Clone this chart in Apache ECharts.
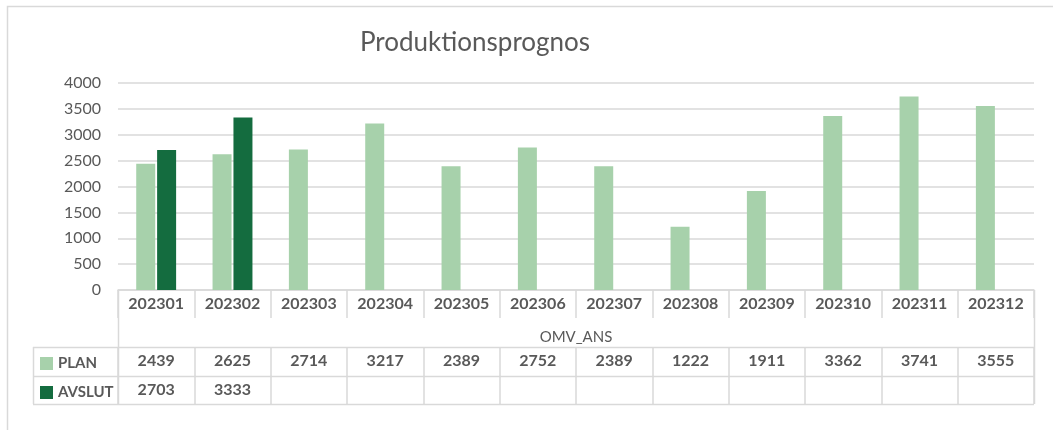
<!DOCTYPE html>
<html>
<head>
<meta charset="utf-8">
<script src="https://cdn.jsdelivr.net/npm/echarts@6/dist/echarts.min.js"></script>
<style>
  html, body { margin: 0; padding: 0; background: #fff; }
  #chart { width: 1053px; height: 430px; }
</style>
</head>
<body>
<div id="chart"></div>
<script>
// data
var months = ['202301', '202302', '202303', '202304', '202305', '202306',
              '202307', '202308', '202309', '202310', '202311', '202312'];
var plan = [2439, 2625, 2714, 3217, 2389, 2752, 2389, 1222, 1911, 3362, 3741, 3555];
var avslut = [2703, 3333, null, null, null, null, null, null, null, null, null, null];
var yTicks = [0, 500, 1000, 1500, 2000, 2500, 3000, 3500, 4000];

var lightGreen = '#a7d1ab';
var darkGreen = '#146c3f';
var lineCol = '#d9d9d9';
var txt = '#595959';
var font = 'Lato';

// table layout (pixels)
var gl = 118, gr = 1034, axisY = 290;
var rowPlan = 347, rowAvs = 376, rowEnd = 404, legL = 33;

function cellText(v) { return v == null ? '' : String(v); }

var chart = echarts.init(document.getElementById('chart'));

var option = {
    animation: false,
    textStyle: { fontFamily: font },
    title: {
        text: 'Produktionsprognos',
        left: 470, top: 25, textAlign: 'center',
        textStyle: { fontFamily: font, fontSize: 26, fontWeight: 'normal', color: txt }
    },
    legend: [
        {
            data: ['PLAN'], orient: 'vertical', left: 35, top: rowPlan + 4,
            itemWidth: 13, itemHeight: 13, icon: 'rect', itemGap: 0,
            textStyle: { fontFamily: font, fontSize: 15, fontWeight: 'bold', color: txt }
        },
        {
            data: ['AVSLUT'], orient: 'vertical', left: 35, top: rowAvs + 4,
            itemWidth: 13, itemHeight: 13, icon: 'rect', itemGap: 0,
            textStyle: { fontFamily: font, fontSize: 15, fontWeight: 'bold', color: txt }
        }
    ],
    grid: { left: gl, right: 1053 - gr, top: 83, bottom: 430 - axisY },
    yAxis: {
        type: 'value', min: yTicks[0], max: yTicks[yTicks.length - 1], interval: 500,
        axisLine: { show: false }, axisTick: { show: false },
        axisLabel: { color: txt, fontSize: 16, margin: 17, formatter: function (v) { return String(v); } },
        splitLine: { lineStyle: { color: lineCol, width: 1.5 } }
    },
    xAxis: [
        {
            type: 'category', data: months, position: 'bottom',
            axisLine: { lineStyle: { color: lineCol, width: 1.5 } },
            axisTick: { show: true, interval: 0, length: 28, lineStyle: { color: lineCol, width: 1.5 } },
            axisLabel: { interval: 0, color: txt, fontSize: 16, fontWeight: 'bold', margin: 6 },
            name: 'OMV_ANS', nameLocation: 'middle', nameGap: 40,
            nameTextStyle: { color: txt, fontSize: 15, fontFamily: font }
        },
        {
            type: 'category', data: plan.map(cellText), position: 'bottom',
            offset: rowPlan - axisY,
            axisLine: { show: false },
            axisTick: { show: true, interval: 0, length: rowEnd - rowPlan, lineStyle: { color: lineCol, width: 1.5 } },
            axisLabel: { interval: 0, color: txt, fontSize: 16, fontWeight: 'bold', margin: 6 }
        },
        {
            type: 'category', data: avslut.map(cellText), position: 'bottom',
            offset: rowAvs - axisY,
            axisLine: { show: false }, axisTick: { show: false },
            axisLabel: { interval: 0, color: txt, fontSize: 16, fontWeight: 'bold', margin: 6 }
        }
    ],
    series: [
        {
            name: 'PLAN', type: 'bar', data: plan, xAxisIndex: 0,
            barWidth: 19, barGap: '10%',
            itemStyle: { color: lightGreen }
        },
        {
            name: 'AVSLUT', type: 'bar', data: avslut, xAxisIndex: 0,
            barWidth: 19,
            itemStyle: { color: darkGreen }
        }
    ],
    graphic: [
        // chart frame (left and top)
        { type: 'polyline', silent: true, shape: { points: [[7.5, 430], [7.5, 6.5], [1053, 6.5]] },
          style: { stroke: lineCol, fill: null, lineWidth: 1.5 } },
        // table lines
        { type: 'line', silent: true, shape: { x1: legL, y1: rowPlan + 0.5, x2: gr, y2: rowPlan + 0.5 }, style: { stroke: lineCol, lineWidth: 1.5 } },
        { type: 'line', silent: true, shape: { x1: legL, y1: rowAvs + 0.5, x2: gr, y2: rowAvs + 0.5 }, style: { stroke: lineCol, lineWidth: 1.5 } },
        { type: 'line', silent: true, shape: { x1: legL, y1: rowEnd + 0.5, x2: gr, y2: rowEnd + 0.5 }, style: { stroke: lineCol, lineWidth: 1.5 } },
        { type: 'line', silent: true, shape: { x1: legL + 0.5, y1: rowPlan, x2: legL + 0.5, y2: rowEnd }, style: { stroke: lineCol, lineWidth: 1.5 } },
        { type: 'line', silent: true, shape: { x1: gl + 0.5, y1: axisY, x2: gl + 0.5, y2: rowEnd }, style: { stroke: lineCol, lineWidth: 1.5 } },
        { type: 'line', silent: true, shape: { x1: gr + 0.5, y1: axisY, x2: gr + 0.5, y2: rowEnd }, style: { stroke: lineCol, lineWidth: 1.5 } }
    ]
};

chart.setOption(option);
</script>
</body>
</html>
